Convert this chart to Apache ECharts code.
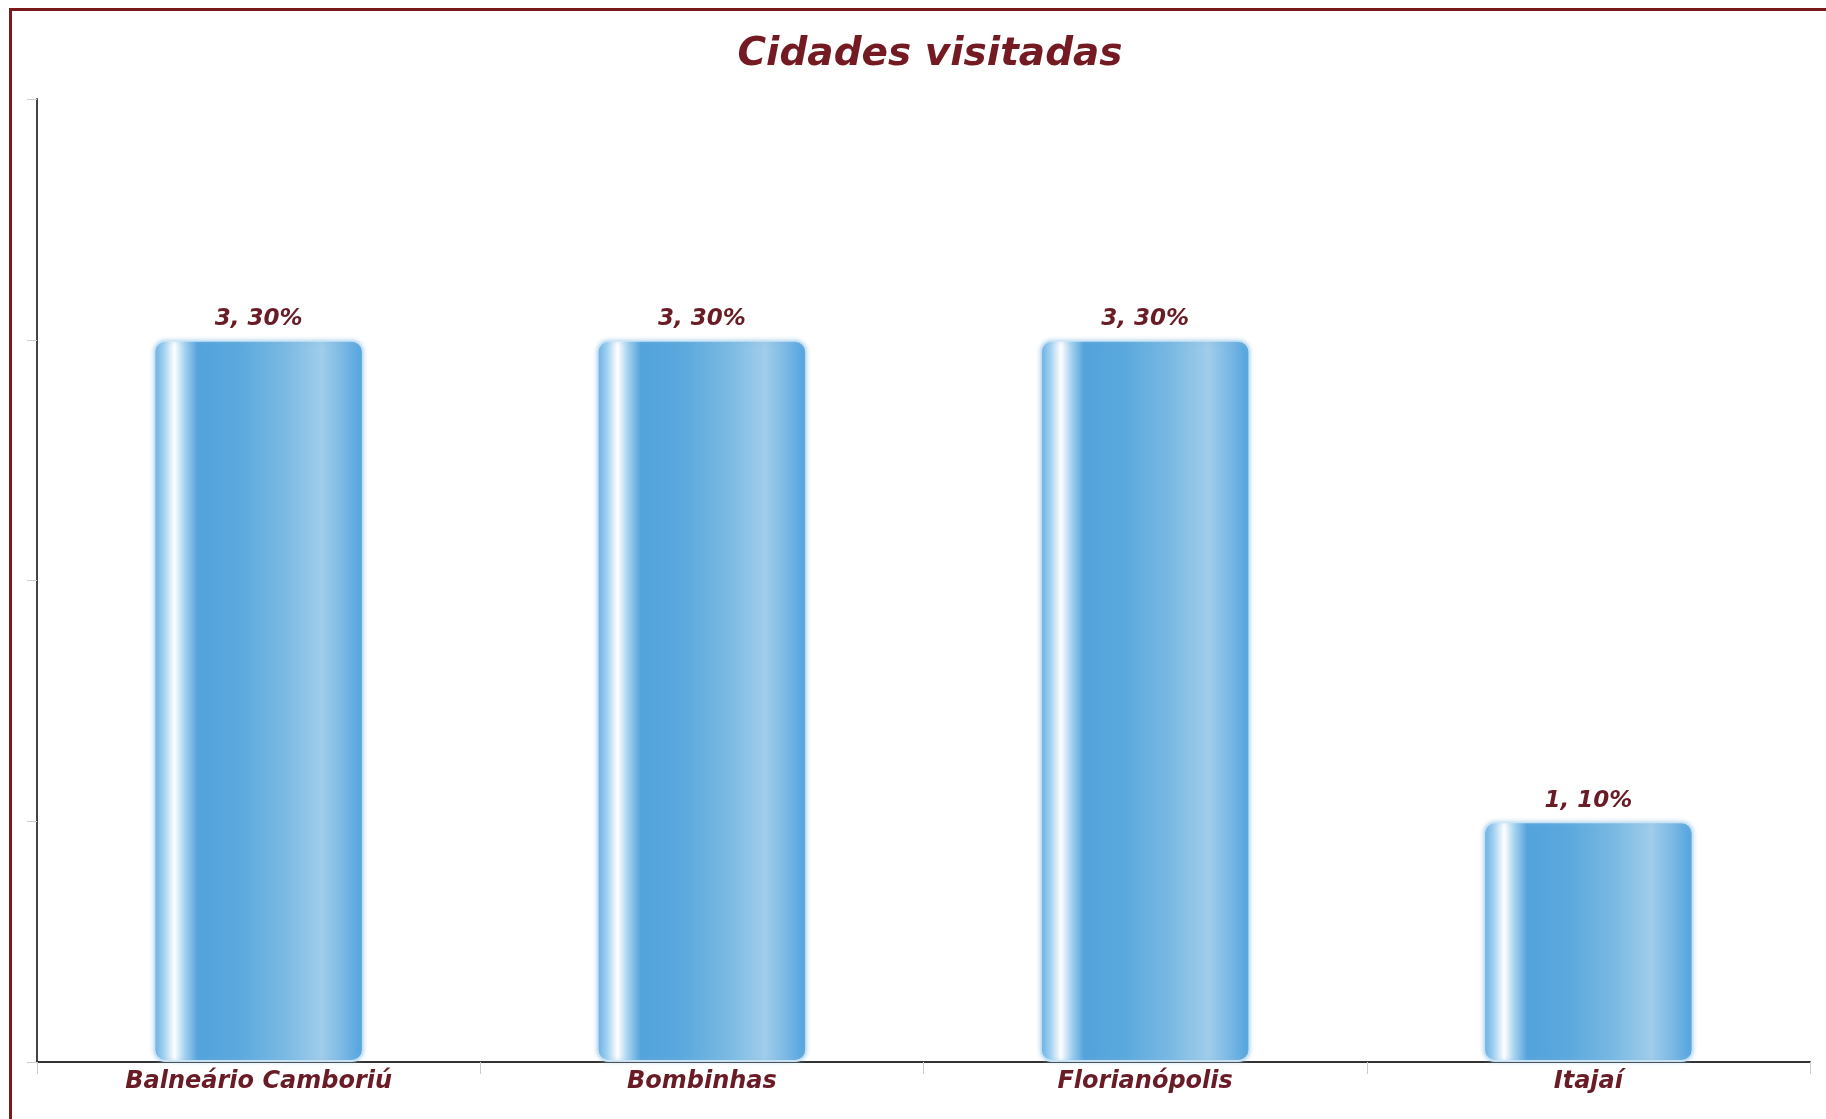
<!DOCTYPE html>
<html>
<head>
<meta charset="utf-8">
<title>Cidades visitadas</title>
<script src="https://cdn.jsdelivr.net/npm/echarts@6/dist/echarts.min.js"></script>
<style>
  html, body { margin: 0; padding: 0; background: #fff; }
  #frame {
    position: absolute; left: 9px; top: 8px; right: 0; bottom: 0;
    border-left: 3px solid #7b1a1c; border-top: 3px solid #7b1a1c;
  }
  #chart { position: absolute; left: 0; top: 0; width: 1826px; height: 1119px; }
</style>
</head>
<body>
<div id="frame"></div>
<div id="chart"></div>
<script>
// dados
const cidades = ['Balneário Camboriú', 'Bombinhas', 'Florianópolis', 'Itajaí']
const visitas = [3, 3, 3, 1]
const total = visitas.reduce((a, b) => a + b, 0)

const textColor = '#6a1c26'
const fontFamily = '"DejaVu Sans", Verdana, sans-serif'

// gradiente horizontal das barras (efeito "vidro")
const barGradient = new echarts.graphic.LinearGradient(0, 0, 1, 0, [
  { offset: 0, color: '#62ade2' },
  { offset: 0.05, color: '#a2d1f1' },
  { offset: 0.1, color: '#ffffff' },
  { offset: 0.15, color: '#a3d1ef' },
  { offset: 0.21, color: '#53a3dc' },
  { offset: 0.4, color: '#5aa8dd' },
  { offset: 0.62, color: '#79b9e3' },
  { offset: 0.8, color: '#a0cdea' },
  { offset: 0.9, color: '#7bb8e4' },
  { offset: 1, color: '#4ea2de' }
])

const chart = echarts.init(document.getElementById('chart'))

const option = {
  animation: false,
  title: {
    text: 'Cidades visitadas',
    // centrado sobre a área do gráfico, não sobre o canvas
    left: 925,
    textAlign: 'center',
    top: 30,
    textStyle: {
      color: '#731a22',
      fontFamily: fontFamily,
      fontSize: 39,
      fontWeight: 'bold',
      fontStyle: 'italic'
    }
  },
  grid: {
    left: 37,
    right: 16,
    top: 99,
    bottom: 57
  },
  xAxis: {
    type: 'category',
    data: cidades,
    axisLine: { lineStyle: { color: '#333', width: 2 } },
    axisTick: { show: true, length: 12, lineStyle: { color: '#ccc', width: 1 } },
    axisLabel: {
      margin: 8,
      color: textColor,
      fontFamily: fontFamily,
      fontSize: 24,
      fontWeight: 'bold',
      fontStyle: 'italic'
    }
  },
  yAxis: {
    type: 'value',
    min: 0,
    max: 4,
    interval: 1,
    axisLine: { show: true, lineStyle: { color: '#444', width: 2 } },
    axisTick: { show: true, length: 10, lineStyle: { color: '#ccc', width: 1 } },
    axisLabel: { show: false },
    splitLine: { show: false }
  },
  series: [
    {
      type: 'bar',
      data: visitas,
      barWidth: '47.5%',
      itemStyle: {
        color: barGradient,
        borderRadius: 11,
        borderColor: 'rgba(205,230,246,0.95)',
        borderWidth: 2,
        shadowBlur: 4,
        shadowColor: 'rgba(140,190,225,0.45)'
      },
      label: {
        show: true,
        position: 'top',
        distance: 9,
        formatter: (p) => p.value + ', ' + Math.round(p.value / total * 100) + '%',
        color: textColor,
        fontFamily: fontFamily,
        fontSize: 23,
        fontWeight: 'bold',
        fontStyle: 'italic'
      }
    }
  ]
}

chart.setOption(option)
</script>
</body>
</html>
